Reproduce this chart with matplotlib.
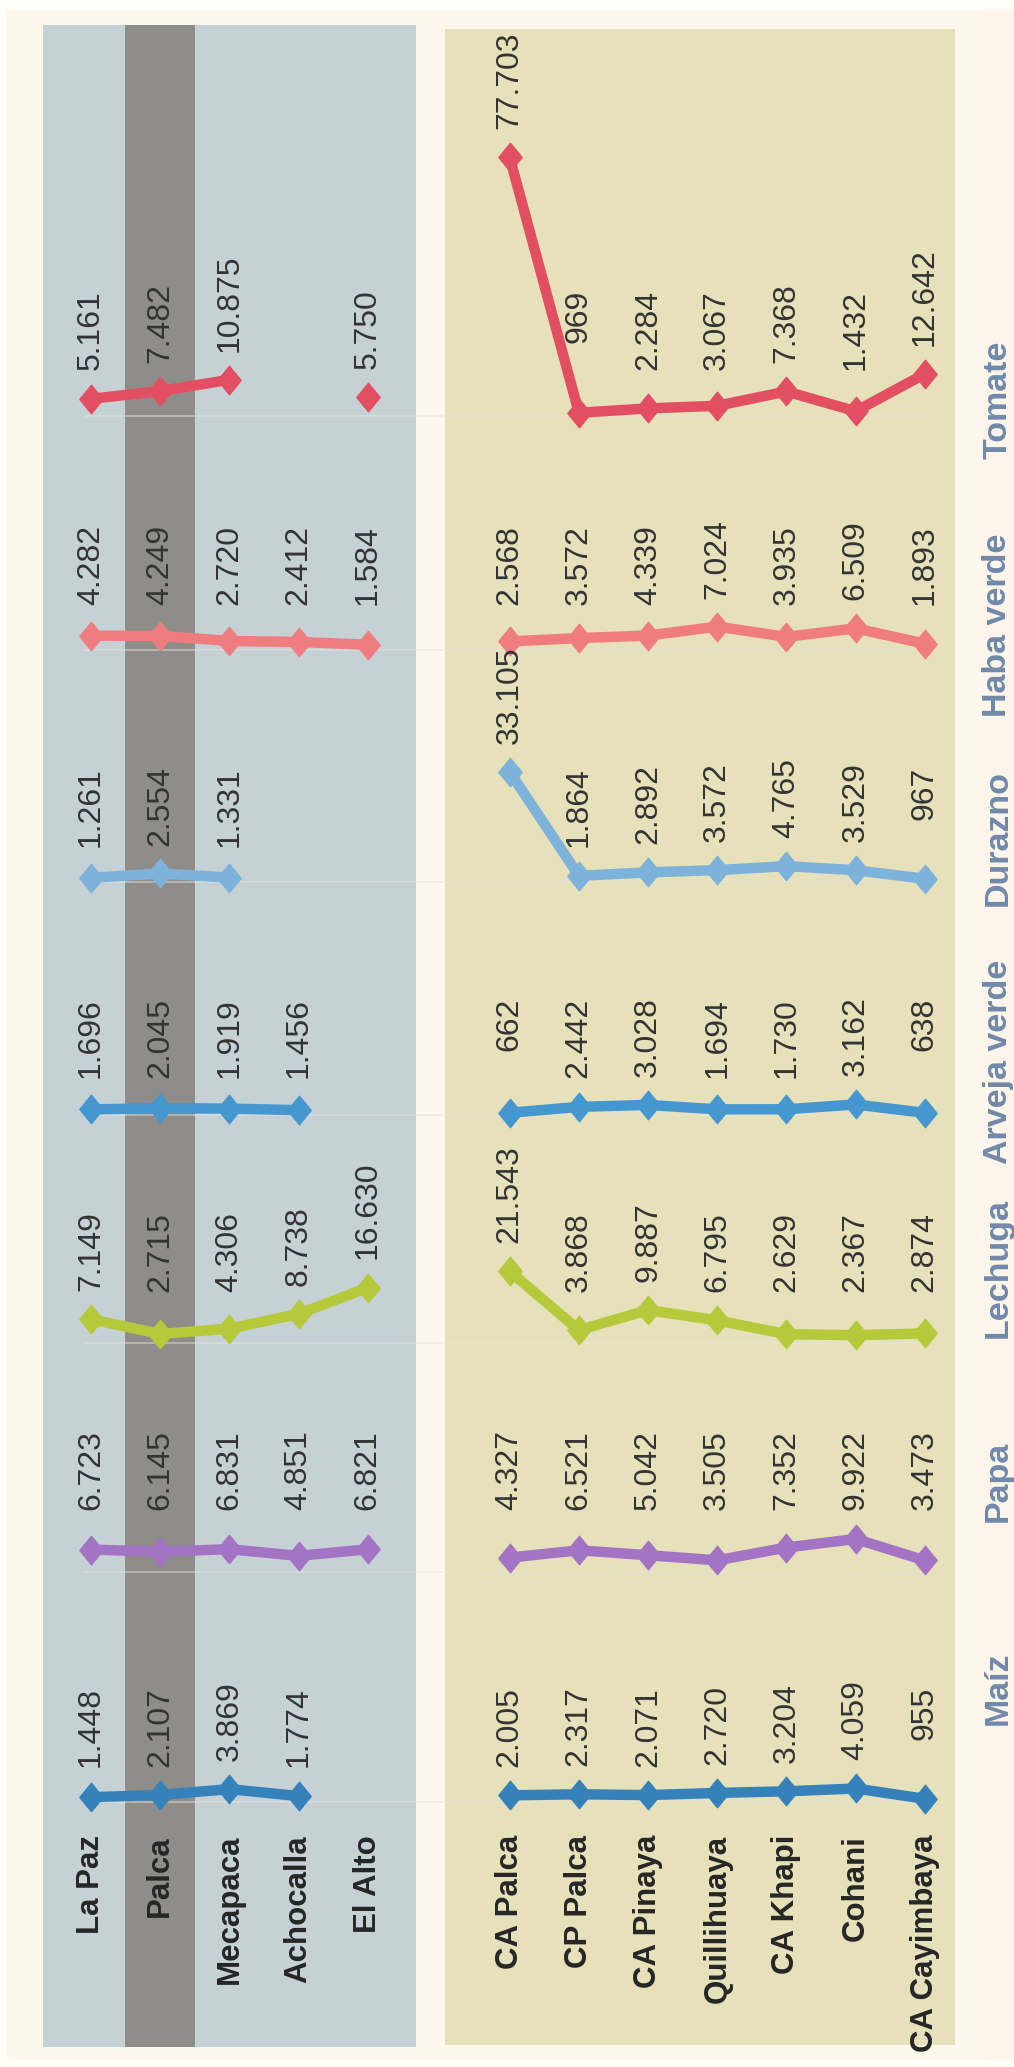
import numpy as np
import matplotlib
matplotlib.use("Agg")
import matplotlib.pyplot as plt
from matplotlib.patches import Rectangle
from matplotlib.path import Path

# --- datos ---
cities = ["La Paz", "Palca", "Mecapaca", "Achocalla", "El Alto"]
communities = ["CA Palca", "CP Palca", "CA Pinaya", "Quillihuaya",
               "CA Khapi", "Cohani", "CA Cayimbaya"]
crops = ["Tomate", "Haba verde", "Durazno", "Arveja verde", "Lechuga", "Papa", "Maíz"]

nan = np.nan
city_tomate = [5161, 7482, 10875, nan, 5750]
city_haba = [4282, 4249, 2720, 2412, 1584]
city_durazno = [1261, 2554, 1331, nan, nan]
city_arveja = [1696, 2045, 1919, 1456, nan]
city_lechuga = [7149, 2715, 4306, 8738, 16630]
city_papa = [6723, 6145, 6831, 4851, 6821]
city_maiz = [1448, 2107, 3869, 1774, nan]

com_tomate = [77703, 969, 2284, 3067, 7368, 1432, 12642]
com_haba = [2568, 3572, 4339, 7024, 3935, 6509, 1893]
com_durazno = [33105, 1864, 2892, 3572, 4765, 3529, 967]
com_arveja = [662, 2442, 3028, 1694, 1730, 3162, 638]
com_lechuga = [21543, 3868, 9887, 6795, 2629, 2367, 2874]
com_papa = [4327, 6521, 5042, 3505, 7352, 9922, 3473]
com_maiz = [2005, 2317, 2071, 2720, 3204, 4059, 955]

city_values = [city_tomate, city_haba, city_durazno, city_arveja,
               city_lechuga, city_papa, city_maiz]
com_values = [com_tomate, com_haba, com_durazno, com_arveja,
              com_lechuga, com_papa, com_maiz]

colors = ["#E24E62", "#EF7D80", "#7DB2DA", "#4597CF", "#B5C93A", "#A374C4", "#3582BA"]

# --- layout (pixeles de la figura) ---
W, H = 1014, 2067
X0, DX = 91, 69.2            # posicion de la primera fila y separacion
COM_START = 6.05             # primera comunidad, en unidades de fila
PX = 3.33 / 1000             # pixeles por unidad de valor
BASE = [416, 650, 882, 1115, 1343, 1572, 1802]
LAB_END = [290, 525, 767, 998, 1212, 1430, 1687]
HEAD_Y = [400, 625, 838, 1062, 1268, 1481, 1688]
LABEL_GAP = 28
FS = 23
EM = FS * 100 / 72

city_x = np.arange(len(cities))
com_x = COM_START + np.arange(len(communities))

diamond = Path([(0, 1), (0.82, 0), (0, -1), (-0.82, 0), (0, 1)], closed=True)


def fmt(v):
    return f"{v:,.0f}".replace(",", ".")


def text_len(s):
    return EM * sum(0.278 if c == "." else 0.556 for c in s)


fig = plt.figure(figsize=(W / 100, H / 100), dpi=100, facecolor="#FFFDF8")

# fondo y paneles
bg = fig.add_axes([0, 0, 1, 1])
bg.set_xlim(0, W)
bg.set_ylim(H, 0)
bg.axis("off")
bg.add_patch(Rectangle((7, 10), 976, 2050, color="#FDF7EC", lw=0))
bg.add_patch(Rectangle((983, 10), 31, 2050, color="#FDF5EA", lw=0))
bg.add_patch(Rectangle((43, 25), 373, 2022, color="#C6D1D6", lw=0))
bg.add_patch(Rectangle((125, 25), 70, 2022, color="#8F8D8A", lw=0))
bg.add_patch(Rectangle((445, 29), 510, 2016, color="#E6E1BA", lw=0))

# etiquetas de filas
for xs, names in [(city_x, cities), (com_x, communities)]:
    for x, name in zip(xs, names):
        bg.text(X0 + x * DX, 1835, name, rotation=90, rotation_mode="anchor",
                ha="right", va="center", fontsize=22.5, fontweight="bold",
                family="Liberation Sans", color="#262626")

# encabezados de cultivos
for name, y in zip(crops, HEAD_Y):
    bg.text(998, y, name, rotation=90, rotation_mode="anchor", ha="center",
            va="center", fontsize=24.5, fontweight="bold",
            family="Liberation Sans", color="#7089AA")

# una franja por cultivo
for k, crop in enumerate(crops):
    below, above = 40, 200
    ax = fig.add_axes([0, 1 - (BASE[k] + below) / H, 1, (below + above) / H])
    ax.patch.set_alpha(0)
    ax.axis("off")
    ax.set_xlim(-X0 / DX, (W - X0) / DX)
    ax.set_ylim(-below / PX, above / PX)
    ax.hlines(0, -0.1, com_x[-1] + 0.05, color="#E4E4DC", lw=1.2, alpha=0.55, zorder=1)

    for xs, vals in [(city_x, city_values[k]), (com_x, com_values[k])]:
        vals = np.array(vals, dtype=float)
        ax.plot(xs, vals, color=colors[k], lw=7.5, marker=diamond, ms=20.5,
                mec=colors[k], solid_capstyle="round", solid_joinstyle="round",
                clip_on=False, zorder=3)
        for x, v in zip(xs, vals):
            if np.isnan(v):
                continue
            s = fmt(v)
            marker_px = BASE[k] - v * PX
            end_px = min(LAB_END[k], marker_px - LABEL_GAP - text_len(s))
            ax.text(x, (BASE[k] - end_px) / PX, s, rotation=90,
                    rotation_mode="anchor", ha="right", va="center",
                    fontsize=FS, family="Liberation Sans", color="#333333")

fig.savefig("out.png", dpi=100)
